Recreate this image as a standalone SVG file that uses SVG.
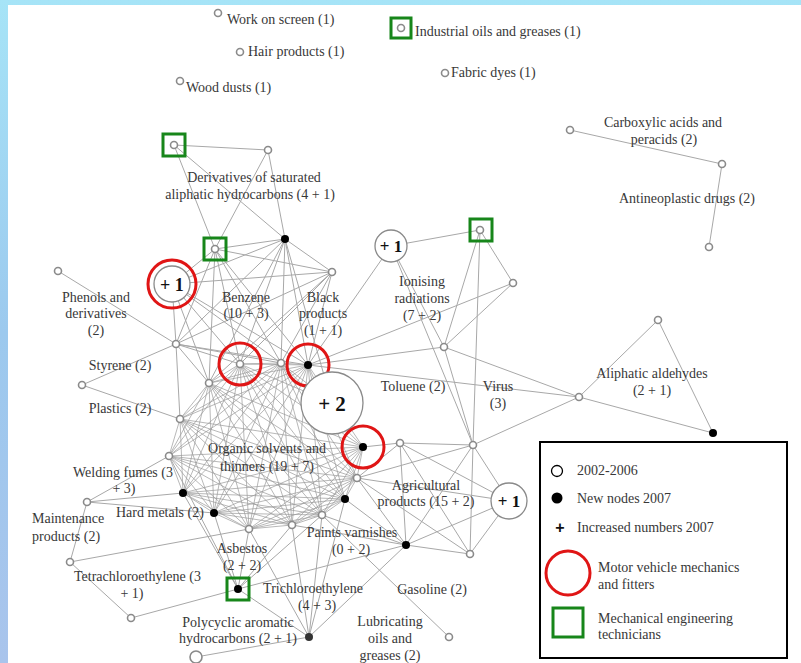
<svg xmlns="http://www.w3.org/2000/svg" width="801" height="663" viewBox="0 0 801 663">
<defs>
<linearGradient id="bg" x1="0" y1="0" x2="0" y2="1">
<stop offset="0" stop-color="#a6e4f7"/>
<stop offset="0.5" stop-color="#9cc9ee"/>
<stop offset="1" stop-color="#a9c4ec"/>
</linearGradient>
<style>
.t{font-family:"Liberation Serif","DejaVu Serif",serif;font-size:14px;fill:#383838}
.m{text-anchor:middle}
.big{font-family:"Liberation Serif","DejaVu Serif",serif;font-weight:bold;fill:#111;text-anchor:middle}
.e{stroke:#a8a8a8;stroke-width:1;fill:none}
.k{stroke:#9a9a9a;stroke-width:0.7;fill:none}
.h{fill:#fff;stroke:#8a8a8a;stroke-width:1.6}
.b{fill:#000}
.red{fill:none;stroke:#e01515;stroke-width:3}
.grn{fill:none;stroke:#17861a;stroke-width:3}
.bc{fill:#fff;stroke:#8a8a8a;stroke-width:1.3}
</style>
</defs>
<rect x="0" y="0" width="801" height="663" fill="url(#bg)"/>
<rect x="8" y="5" width="793" height="658" fill="#fff"/>

<g id="connectors">
<path class="k" d="M240 364L281 363M240 364L308 365M240 364L332 403M240 364L363 447M240 364L357 478M240 364L345 499M240 364L322 515M240 364L292 525M240 364L249 529M240 364L214 513M240 364L183 493M240 364L169 456M240 364L180 419M240 364L209 383
M281 363L308 365M281 363L332 403M281 363L363 447M281 363L357 478M281 363L345 499M281 363L322 515M281 363L292 525M281 363L249 529M281 363L214 513M281 363L183 493M281 363L169 456M281 363L180 419M281 363L209 383
M308 365L363 447M308 365L357 478M308 365L345 499M308 365L322 515M308 365L292 525M308 365L249 529M308 365L214 513M308 365L183 493M308 365L169 456M308 365L180 419M308 365L209 383
M363 447L357 478M363 447L345 499M363 447L322 515M363 447L292 525M363 447L249 529M363 447L214 513M363 447L183 493M363 447L169 456M363 447L180 419M363 447L209 383
M357 478L345 499M357 478L322 515M357 478L292 525M357 478L249 529M357 478L214 513M357 478L183 493M357 478L169 456M357 478L180 419M357 478L209 383
M345 499L322 515M345 499L292 525M345 499L249 529M345 499L214 513M345 499L183 493M345 499L169 456M345 499L180 419M345 499L209 383
M322 515L292 525M322 515L249 529M322 515L214 513M322 515L183 493M322 515L169 456M322 515L180 419M322 515L209 383
M292 525L249 529M292 525L214 513M292 525L183 493M292 525L169 456M292 525L180 419M292 525L209 383
M249 529L214 513M249 529L183 493M249 529L169 456M249 529L180 419M249 529L209 383
M214 513L183 493M214 513L169 456M214 513L180 419M214 513L209 383
M183 493L169 456M183 493L180 419M183 493L209 383
M169 456L180 419M169 456L209 383
M180 419L209 383"/>
<path class="e" d="M174 145L268 150M174 145L215 249M174 145L285 239M268 150L215 249M268 150L285 239
M215 249L285 239M215 249L332 272M215 249L176 344M215 249L240 364M215 249L281 363M215 249L308 365M215 249L209 383M215 249L172 284
M285 239L172 284M285 239L332 272M285 239L176 344M285 239L240 364M285 239L281 363M285 239L308 365M285 239L209 383M285 239L332 403
M172 284L332 272M172 284L240 364M172 284L281 363M172 284L308 365M172 284L209 383M172 284L176 344
M332 272L176 344M332 272L240 364M332 272L281 363M332 272L308 365M332 272L209 383
M176 344L240 364M176 344L281 363M176 344L308 365M176 344L209 383M176 344L180 419
M58 271L176 344M82 385L176 344M82 385L180 419
M87 502L169 456M87 502L183 493M87 502L214 513M87 502L70 562
M70 562L249 529M70 562L131 618M131 618L238 589
M238 589L169 456M238 589L183 493M238 589L214 513M238 589L249 529M238 589L292 525M238 589L322 515M238 589L406 545M238 589L309 637
M196 657L309 637M309 637L249 529M309 637L292 525M309 637L322 515M309 637L345 499M309 637L406 545
M449 637L322 515
M406 545L292 525M406 545L322 515M406 545L345 499M406 545L357 478M406 545L400 443M406 545L473 445M406 545L509 501M406 545L470 554
M357 478L400 443M357 478L473 445M357 478L509 501M357 478L470 554M363 447L400 443
M400 443L473 445M400 443L470 554M400 443L509 501
M473 445L509 501M473 445L470 554M473 445L579 397M473 445L444 347M473 445L480 230
M509 501L470 554
M391 246L480 230M391 246L444 347M391 246L308 365M391 246L473 445
M480 230L513 283M480 230L444 347M513 283L444 347M513 283L308 365M444 347L308 365M444 347L579 397M308 365L579 397
M579 397L658 320M658 320L713 433M579 397L713 433
M570 130L722 164M722 164L709 247"/>
</g>

<g id="n-work"><circle class="h" cx="218" cy="13" r="3.5"/><text class="t" x="227" y="24">Work on screen (1)</text></g>
<g id="n-hair"><circle class="h" cx="240" cy="52" r="3.5"/><text class="t" x="248" y="56">Hair products (1)</text></g>
<g id="n-wood"><circle class="h" cx="180" cy="81" r="3.5"/><text class="t" x="186" y="92">Wood dusts (1)</text></g>
<g id="n-indoils"><circle class="h" cx="401" cy="28" r="3.5"/><rect class="grn" x="391" y="18" width="20" height="20"/><text class="t" x="415" y="36">Industrial oils and greases (1)</text></g>
<g id="n-fabric"><circle class="h" cx="445" cy="73" r="3.5"/><text class="t" x="451" y="77">Fabric dyes (1)</text></g>

<g id="n-carboxylic">
<circle class="h" cx="570" cy="130" r="3.5"/><circle class="h" cx="722" cy="164" r="3.5"/>
<text class="t m" x="663" y="127">Carboxylic acids and</text><text class="t m" x="664" y="144">peracids (2)</text>
</g>
<g id="n-antineoplastic"><circle class="h" cx="709" cy="247" r="3.5"/><text class="t m" x="687" y="203">Antineoplastic drugs (2)</text></g>

<g id="n-derivatives">
<circle class="h" cx="174" cy="145" r="3.5"/><rect class="grn" x="163" y="134" width="22" height="22"/>
<circle class="h" cx="268" cy="150" r="3.5"/>
<text class="t m" x="254" y="182">Derivatives of saturated</text><text class="t m" x="250" y="199">aliphatic hydrocarbons (4 + 1)</text>
</g>

<g id="n-benzene">
<circle class="b" cx="285" cy="239" r="4"/>
<circle class="h" cx="215" cy="249" r="3.5"/><rect class="grn" x="204" y="238" width="22" height="22"/>
<circle class="bc" cx="172" cy="284" r="18"/><circle class="red" cx="172" cy="284" r="24"/>
<text class="big" x="172" y="291" font-size="18">+ 1</text>
<circle class="h" cx="176" cy="344" r="3.5"/>
<text class="t m" x="246" y="302">Benzene</text><text class="t m" x="246" y="318">(10 + 3)</text>
</g>

<g id="n-phenols"><circle class="h" cx="58" cy="271" r="3.5"/>
<text class="t m" x="96" y="302">Phenols and</text><text class="t m" x="96" y="318">derivatives</text><text class="t m" x="96" y="335">(2)</text></g>

<g id="n-black"><circle class="h" cx="332" cy="272" r="3.5"/>
<text class="t m" x="323" y="302">Black</text><text class="t m" x="323" y="318">products</text><text class="t m" x="323" y="335">(1 + 1)</text></g>

<g id="n-styrene"><circle class="h" cx="82" cy="385" r="3.5"/><text class="t m" x="120" y="370">Styrene (2)</text></g>
<g id="n-plastics"><text class="t m" x="120" y="413">Plastics (2)</text></g>

<g id="n-organic">
<circle class="h" cx="240" cy="364" r="3.5"/><circle class="red" cx="240" cy="364" r="21"/>
<circle class="h" cx="281" cy="363" r="3.5"/>
<circle class="b" cx="308" cy="365" r="4"/><circle class="red" cx="308" cy="365" r="21"/>
<circle class="bc" cx="332" cy="403" r="31"/><text class="big" x="332" y="411" font-size="21">+ 2</text>
<circle class="b" cx="363" cy="447" r="4"/><circle class="red" cx="363" cy="447" r="21"/>
<circle class="h" cx="357" cy="478" r="3.5"/>
<circle class="b" cx="345" cy="499" r="4"/>
<circle class="h" cx="322" cy="515" r="3.5"/>
<circle class="h" cx="292" cy="525" r="3.5"/>
<circle class="h" cx="249" cy="529" r="3.5"/>
<circle class="b" cx="214" cy="513" r="4"/>
<circle class="b" cx="183" cy="493" r="4"/>
<circle class="h" cx="169" cy="456" r="3.5"/>
<circle class="h" cx="180" cy="419" r="3.5"/>
<circle class="h" cx="209" cy="383" r="3.5"/>
<text class="t m" x="267" y="453">Organic solvents and</text><text class="t m" x="267" y="471">thinners (19 + 7)</text>
</g>

<g id="n-toluene"><text class="t m" x="413" y="391">Toluene (2)</text></g>
<g id="n-virus"><text class="t m" x="498" y="391">Virus</text><text class="t m" x="498" y="408">(3)</text></g>

<g id="n-ionising">
<circle class="bc" cx="391" cy="246" r="16"/><text class="big" x="391" y="252" font-size="17">+ 1</text>
<circle class="h" cx="480" cy="230" r="3.5"/><rect class="grn" x="470" y="219" width="22" height="22"/>
<circle class="h" cx="513" cy="283" r="3.5"/>
<circle class="h" cx="444" cy="347" r="3.5"/>
<text class="t m" x="422" y="286">Ionising</text><text class="t m" x="422" y="303">radiations</text><text class="t m" x="422" y="320">(7 + 2)</text>
</g>

<g id="n-aliphatic">
<circle class="h" cx="579" cy="397" r="3.5"/><circle class="h" cx="658" cy="320" r="3.5"/><circle class="b" cx="713" cy="433" r="4"/>
<text class="t m" x="652" y="378">Aliphatic aldehydes</text><text class="t m" x="652" y="395">(2 + 1)</text>
</g>

<g id="n-agricultural">
<circle class="h" cx="400" cy="443" r="3.5"/><circle class="h" cx="473" cy="445" r="3.5"/>
<circle class="bc" cx="509" cy="501" r="18"/><text class="big" x="509" y="507" font-size="17">+ 1</text>
<circle class="b" cx="406" cy="545" r="4"/><circle class="h" cx="470" cy="554" r="3.5"/>
<text class="t m" x="426" y="490">Agricultural</text><text class="t m" x="426" y="506">products (15 + 2)</text>
</g>

<g id="n-paints"><text class="t m" x="352" y="537">Paints varnishes</text><text class="t m" x="351" y="554">(0 + 2)</text></g>

<g id="n-welding"><circle class="h" cx="87" cy="502" r="3.5"/><text class="t" x="73" y="477">Welding fumes (3</text><text class="t m" x="124" y="493">+ 3)</text></g>
<g id="n-hardmetals"><text class="t" x="116" y="517">Hard metals (2)</text></g>
<g id="n-maintenance"><circle class="h" cx="70" cy="562" r="3.5"/><text class="t" x="32" y="523">Maintenance</text><text class="t" x="32" y="541">products (2)</text></g>
<g id="n-asbestos"><circle class="b" cx="238" cy="589" r="4"/><rect class="grn" x="227" y="578" width="22" height="22"/>
<text class="t m" x="242" y="553">Asbestos</text><text class="t m" x="242" y="570">(2 + 2)</text></g>
<g id="n-tetra"><circle class="h" cx="131" cy="618" r="3.5"/><text class="t" x="74" y="581">Tetrachloroethylene (3</text><text class="t m" x="132" y="598">+ 1)</text></g>
<g id="n-poly"><circle class="h" cx="196" cy="657" r="6"/><text class="t m" x="238" y="627">Polycyclic aromatic</text><text class="t m" x="238" y="643">hydrocarbons (2 + 1)</text></g>
<g id="n-tri"><circle cx="309" cy="637" r="4" fill="#333"/><text class="t m" x="313" y="593">Trichloroethylene</text><text class="t m" x="317" y="610">(4 + 3)</text></g>
<g id="n-gasoline"><text class="t m" x="432" y="594">Gasoline (2)</text></g>
<g id="n-lubricating"><circle class="h" cx="449" cy="637" r="3.5"/><text class="t m" x="390" y="626">Lubricating</text><text class="t m" x="390" y="643">oils and</text><text class="t m" x="390" y="660">greases (2)</text></g>

<g id="legend">
<rect x="540" y="442" width="247" height="216" fill="#fff" stroke="#000" stroke-width="2"/>
<circle cx="557" cy="471" r="5.5" fill="#fff" stroke="#000" stroke-width="1.3"/>
<text class="t" x="577" y="475">2002-2006</text>
<circle cx="557" cy="498" r="5.5" fill="#000"/>
<text class="t" x="577" y="503">New nodes 2007</text>
<text x="560" y="533" font-family="Liberation Sans,sans-serif" font-size="16" font-weight="bold" text-anchor="middle" fill="#111">+</text>
<text class="t" x="577" y="532">Increased numbers 2007</text>
<circle cx="568" cy="573" r="22" fill="none" stroke="#e01515" stroke-width="3"/>
<text class="t" x="598" y="572">Motor vehicle mechanics</text>
<text class="t" x="598" y="589">and fitters</text>
<rect x="553" y="608" width="30" height="29" fill="none" stroke="#17861a" stroke-width="3"/>
<text class="t" x="598" y="623">Mechanical engineering</text>
<text class="t" x="598" y="639">technicians</text>
</g>
</svg>
